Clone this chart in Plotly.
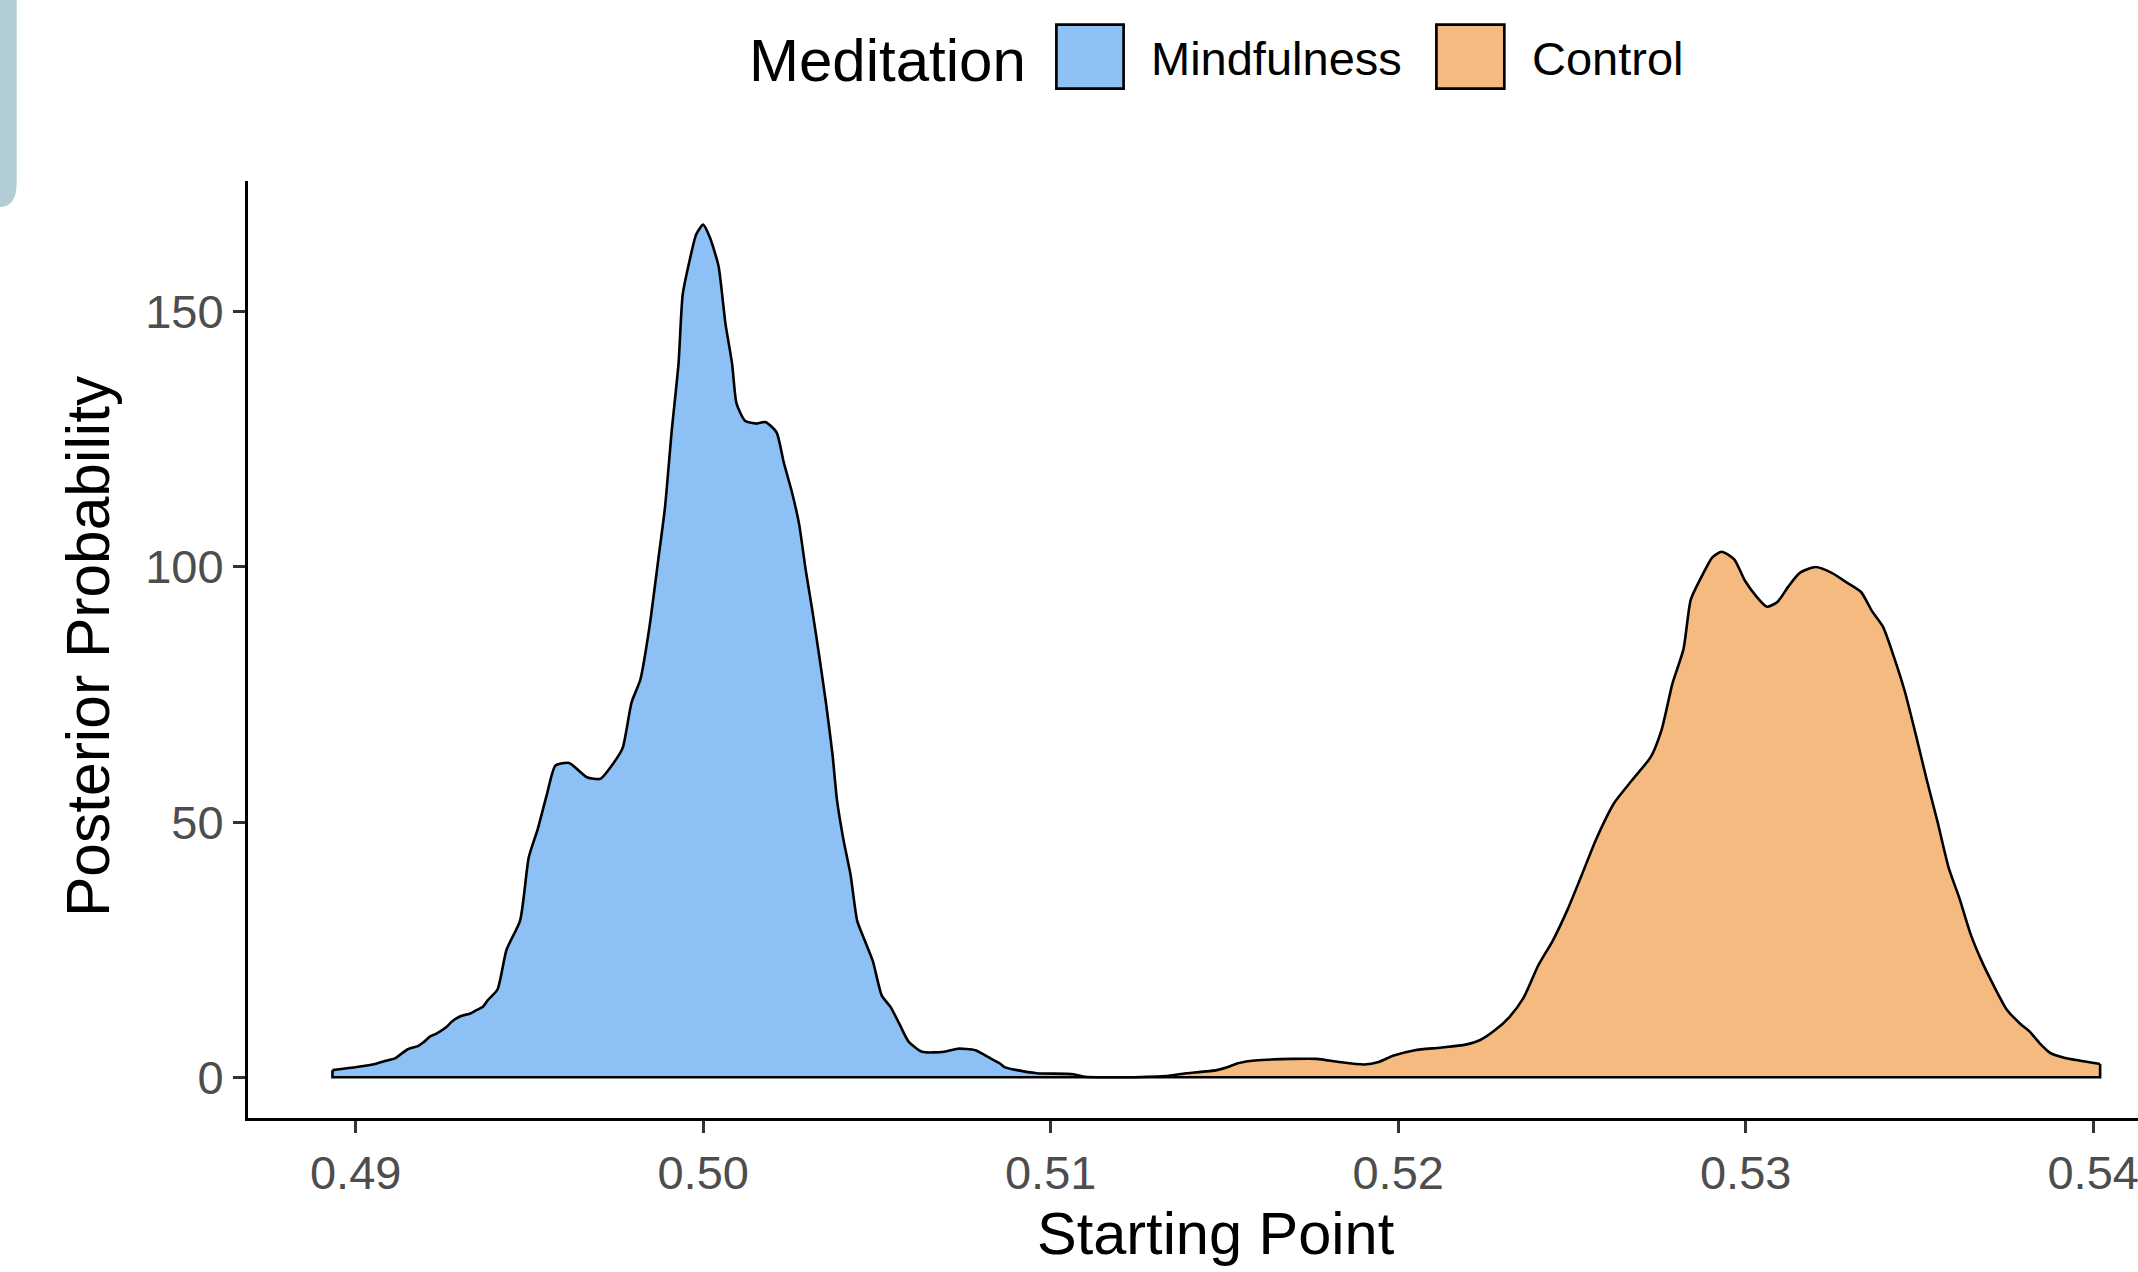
import plotly.graph_objects as go

# Posterior density of the drift-diffusion starting point, by meditation group
mindfulness_x = [0.48933, 0.49003, 0.49056, 0.49084, 0.49113, 0.49127, 0.49150, 0.49179,
                 0.49194, 0.49214, 0.49231, 0.49262, 0.49276, 0.49303, 0.49330, 0.49349,
                 0.49366, 0.49381, 0.49408, 0.49434, 0.49473, 0.49498, 0.49524, 0.49550,
                 0.49575, 0.49614, 0.49665, 0.49704, 0.49742, 0.49768, 0.49794, 0.49819,
                 0.49845, 0.49871, 0.49890, 0.49909, 0.49929, 0.49941, 0.49961, 0.49980,
                 0.50000, 0.50019, 0.50044, 0.50064, 0.50083, 0.50096, 0.50121, 0.50154,
                 0.50179, 0.50211, 0.50231, 0.50256, 0.50276, 0.50295, 0.50314, 0.50334,
                 0.50353, 0.50372, 0.50385, 0.50404, 0.50424, 0.50443, 0.50462, 0.50488,
                 0.50514, 0.50539, 0.50565, 0.50591, 0.50630, 0.50694, 0.50732, 0.50783,
                 0.50822, 0.50854, 0.50867, 0.50903, 0.50960, 0.51065, 0.51100, 0.51240]
mindfulness_y = [1.4, 2.0, 2.6, 3.2, 3.7, 4.4, 5.5, 6.1,
                 6.8, 8.0, 8.5, 9.9, 10.9, 12.0, 12.5, 13.2,
                 13.8, 15.2, 17.2, 25.0, 30.7, 43.1, 48.7, 55.4,
                 61.1, 61.6, 58.8, 58.5, 61.6, 64.5, 73.5, 77.9,
                 88.1, 101.6, 111.7, 126.4, 139.9, 153.4, 160.1, 165.2,
                 167.1, 164.6, 159.0, 147.7, 139.9, 132.0, 128.6, 128.1,
                 128.4, 126.4, 120.7, 114.5, 108.4, 99.4, 91.5, 82.5,
                 73.5, 63.3, 54.3, 46.4, 39.7, 30.7, 27.3, 22.8,
                 16.0, 13.8, 10.4, 7.0, 5.0, 5.0, 5.6, 5.3,
                 3.9, 2.7, 2.0, 1.4, 0.8, 0.6, 0.1, 0.0]

control_x = [0.51240, 0.51340, 0.51381, 0.51478, 0.51510, 0.51536, 0.51574, 0.51609,
             0.51693, 0.51766, 0.51829, 0.51902, 0.51944, 0.51985, 0.52048, 0.52121,
             0.52194, 0.52236, 0.52278, 0.52320, 0.52361, 0.52403, 0.52445, 0.52487,
             0.52528, 0.52570, 0.52622, 0.52674, 0.52727, 0.52758, 0.52789, 0.52821,
             0.52842, 0.52873, 0.52904, 0.52931, 0.52967, 0.52998, 0.53030, 0.53061,
             0.53092, 0.53123, 0.53155, 0.53201, 0.53249, 0.53290, 0.53332, 0.53364,
             0.53395, 0.53427, 0.53458, 0.53489, 0.53521, 0.53552, 0.53584, 0.53615,
             0.53646, 0.53677, 0.53709, 0.53751, 0.53790, 0.53818, 0.53847, 0.53876,
             0.53919, 0.53959, 0.54020]
control_y = [0.0, 0.3, 0.7, 1.4, 2.0, 2.7, 3.2, 3.4,
             3.6, 3.6, 3.0, 2.5, 3.0, 4.2, 5.3, 5.8,
             6.4, 7.3, 9.2, 11.8, 15.6, 21.9, 26.8, 32.8,
             39.6, 46.7, 53.8, 58.3, 62.8, 68.1, 77.1, 83.9,
             93.6, 98.1, 101.9, 103.0, 101.5, 97.3, 94.3, 92.2,
             93.2, 96.2, 98.8, 100.0, 98.8, 97.0, 95.1, 91.3,
             88.3, 82.3, 75.6, 67.3, 58.3, 50.1, 41.1, 35.1,
             28.3, 23.1, 18.6, 13.3, 10.5, 8.9, 6.6, 4.8,
             3.8, 3.3, 2.6]

group_names = ["Mindfulness", "Control"]
legend_title = "Meditation"
x_title = "Starting Point"
y_title = "Posterior Probability"
x_ticks = [0.49, 0.50, 0.51, 0.52, 0.53, 0.54]
y_ticks = [0, 50, 100, 150]

FILLS = {"Mindfulness": "#8DC1F5", "Control": "#F5BA7F"}
FONT = "Liberation Sans, Arial, sans-serif"

# page geometry (pixels)
W, H = 2138, 1272
ML, MR, MT, MB = 248, 0, 181, 154
PW = W - ML - MR
PH = H - MT - MB


def fx(px):
    """Horizontal pixel position -> paper coordinate."""
    return (px - ML) / PW


def fy(py):
    """Vertical pixel position (from top) -> paper coordinate."""
    return (H - MB - py) / PH


fig = go.Figure()
for name, xs, ys in [("Mindfulness", mindfulness_x, mindfulness_y),
                     ("Control", control_x, control_y)]:
    # smooth filled density curve
    fig.add_trace(go.Scatter(
        x=xs, y=ys, mode="lines", fill="tozeroy", fillcolor=FILLS[name],
        line=dict(color="black", width=2.6, shape="spline", smoothing=0.6),
        name=name, showlegend=False, hoverinfo="skip",
    ))
    # outline along the baseline and the two end edges of the polygon
    fig.add_trace(go.Scatter(
        x=[xs[-1], xs[-1], xs[0], xs[0]], y=[ys[-1], 0, 0, ys[0]],
        mode="lines", line=dict(color="black", width=2.6),
        showlegend=False, hoverinfo="skip",
    ))

axis_common = dict(
    showgrid=False, zeroline=False, showline=True, linecolor="black", linewidth=3,
    ticks="outside", ticklen=12, tickwidth=2.5, tickcolor="#333333",
    tickfont=dict(family=FONT, size=47, color="#4D4D4D"),
)

fig.update_layout(
    width=W, height=H,
    margin=dict(l=ML, r=MR, t=MT, b=MB, pad=0),
    paper_bgcolor="white", plot_bgcolor="white",
    showlegend=False,
    xaxis=dict(range=[0.48690, 0.54129], tickvals=x_ticks,
               ticktext=[f"{v:.2f}" for v in x_ticks], ticklabeloverflow="allow",
               **axis_common),
    yaxis=dict(range=[-7.98, 175.64], tickvals=y_ticks,
               ticktext=[str(v) for v in y_ticks], **axis_common),
)

# axis titles
fig.add_annotation(text=x_title, x=fx(1216), y=fy(1233), xref="paper", yref="paper",
                   xanchor="center", yanchor="middle", showarrow=False,
                   font=dict(family=FONT, size=59.5, color="black"))
fig.add_annotation(text=y_title, x=fx(88), y=fy(646), xref="paper", yref="paper",
                   xanchor="center", yanchor="middle", showarrow=False, textangle=-90,
                   font=dict(family=FONT, size=60.5, color="black"))

# legend across the top
fig.add_annotation(text=legend_title, x=fx(747), y=fy(61), xref="paper", yref="paper",
                   xanchor="left", yanchor="middle", showarrow=False,
                   font=dict(family=FONT, size=60, color="black"))
key_boxes = {"Mindfulness": (1056.4, 1123.6), "Control": (1436.4, 1504.3)}
label_left = {"Mindfulness": 1149, "Control": 1530}
for name in group_names:
    x0, x1 = key_boxes[name]
    fig.add_shape(type="rect", xref="paper", yref="paper",
                  x0=fx(x0), x1=fx(x1), y0=fy(88.6), y1=fy(24.7),
                  fillcolor=FILLS[name], line=dict(color="black", width=2.7))
    fig.add_annotation(text=name, x=fx(label_left[name]), y=fy(58), xref="paper",
                       yref="paper", xanchor="left", yanchor="middle", showarrow=False,
                       font=dict(family=FONT, size=47, color="black"))

# rounded slide-panel edge peeking in at the top-left corner
blob = (f"M {fx(0)},{fy(0)} L {fx(16.7)},{fy(0)} L {fx(16.7)},{fy(182)} "
        f"Q {fx(16.7)},{fy(207)} {fx(0)},{fy(207)} Z")
fig.add_shape(type="path", path=blob, xref="paper", yref="paper",
              fillcolor="#B2CCD4", line=dict(width=0), layer="below")

fig.write_html("out.html")
